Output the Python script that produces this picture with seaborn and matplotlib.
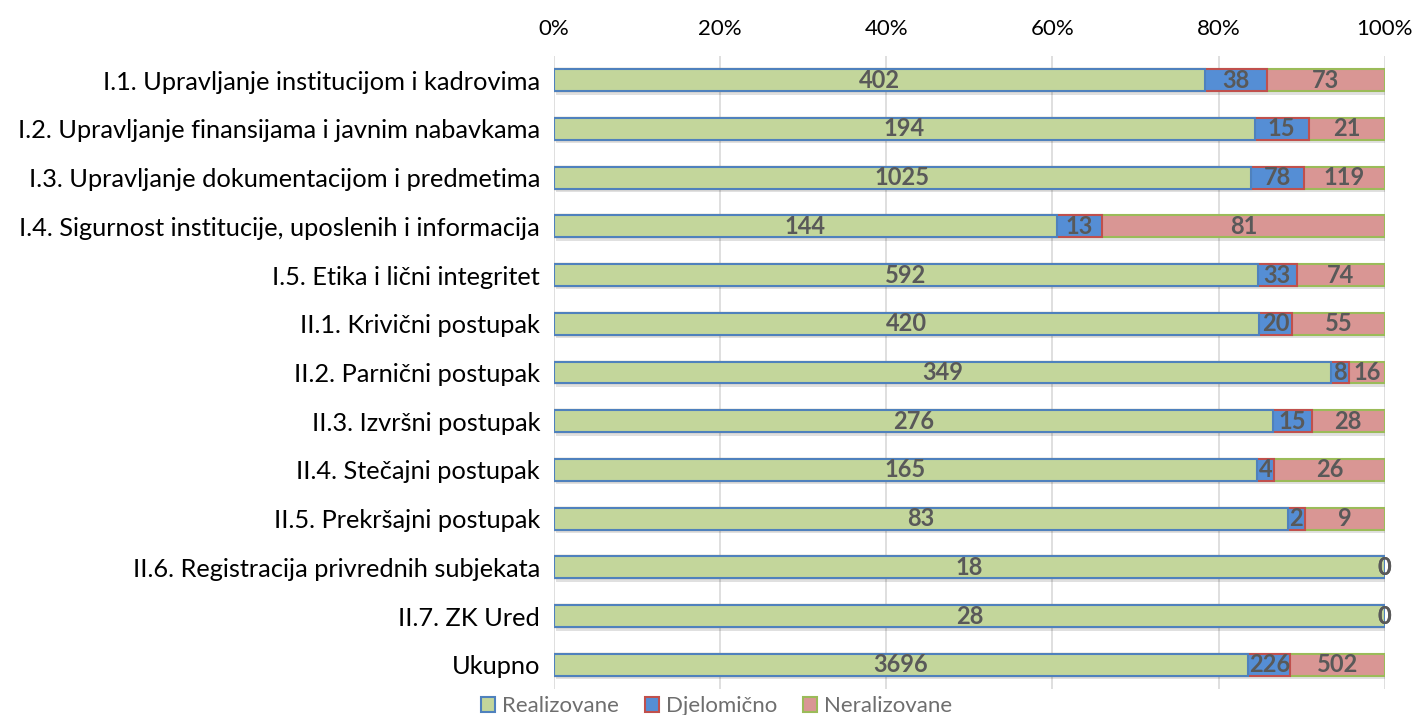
import numpy as np
import pandas as pd
import matplotlib
matplotlib.use("Agg")
import matplotlib.pyplot as plt
import matplotlib.patheffects as pe
import seaborn as sns
from matplotlib.patches import Patch
from matplotlib.ticker import PercentFormatter

categories = [
    "I.1. Upravljanje institucijom i kadrovima",
    "I.2. Upravljanje finansijama i javnim nabavkama",
    "I.3. Upravljanje dokumentacijom i predmetima",
    "I.4. Sigurnost institucije, uposlenih i informacija",
    "I.5. Etika i lični integritet",
    "II.1. Krivični postupak",
    "II.2. Parnični postupak",
    "II.3. Izvršni postupak",
    "II.4. Stečajni postupak",
    "II.5. Prekršajni postupak",
    "II.6. Registracija privrednih subjekata",
    "II.7. ZK Ured",
    "Ukupno",
]
realizovane = [402, 194, 1025, 144, 592, 420, 349, 276, 165, 83, 18, 28, 3696]
djelomicno = [38, 15, 78, 13, 33, 20, 8, 15, 4, 2, 0, 0, 226]
neralizovane = [73, 21, 119, 81, 74, 55, 16, 28, 26, 9, 0, 0, 502]
series_names = ["Realizovane", "Djelomično", "Neralizovane"]

df = pd.DataFrame({"cat": categories, "r": realizovane, "d": djelomicno, "n": neralizovane})
tot = df[["r", "d", "n"]].sum(axis=1)
df["c1"] = df["r"] / tot * 100
df["c2"] = (df["r"] + df["d"]) / tot * 100
df["c3"] = (df["r"] + df["d"] + df["n"]) / tot * 100

faces = ["#C3D69B", "#558ED5", "#D99694"]
edges = ["#4F81BD", "#C0504D", "#9BBB59"]

plt.rcParams["font.family"] = ["Lato", "DejaVu Sans"]
fig = plt.figure(figsize=(14.13, 7.15), dpi=100)
ax = fig.add_axes([0.392, 0.036, 0.588, 0.886])

# stacked by overlaying cumulative bars, widest first
shadow = [pe.SimplePatchShadow(offset=(1.5, -2.5), shadow_rgbFace="#000000", alpha=0.12), pe.Normal()]
for k, (col, fc, ec) in enumerate([("c3", faces[2], edges[2]), ("c2", faces[1], edges[1]), ("c1", faces[0], edges[0])]):
    sns.barplot(data=df, x=col, y="cat", orient="h", color=fc, edgecolor=ec,
                linewidth=1.5, width=0.45, saturation=1, ax=ax, zorder=3)
    if k == 0:
        for p in ax.patches:
            p.set_path_effects(shadow)

ax.set_xlim(0, 100)
ax.set_ylim(len(categories) - 0.5, -0.5)
ax.xaxis.set_major_formatter(PercentFormatter(decimals=0))
ax.set_xticks(np.arange(0, 101, 20))
ax.xaxis.tick_top()
ax.tick_params(axis="both", length=0, colors="black")
ax.tick_params(axis="x", labelsize=16, pad=12)
ax.tick_params(axis="y", labelsize=18.3, pad=10)
ax.grid(axis="x", color="#D9D9D9", linewidth=1.2, zorder=0)
ax.set_axisbelow(True)
for s in ax.spines.values():
    s.set_visible(False)
ax.set_xlabel("")
ax.set_ylabel("")

for i, row in df.iterrows():
    for v, lo, hi in [(row["r"], 0, row["c1"]), (row["d"], row["c1"], row["c2"]), (row["n"], row["c2"], row["c3"])]:
        ax.text((lo + hi) / 2, i, f"{v}", ha="center", va="center", fontsize=17,
                fontweight="bold", color="#595959", zorder=5)

handles = [Patch(facecolor=f, edgecolor=e, linewidth=1.5) for f, e in zip(faces, edges)]
fig.legend(handles, series_names, loc="lower center", bbox_to_anchor=(0.507, -0.03), ncol=3,
           frameon=False, fontsize=16, labelcolor="#6E6E6E", handlelength=0.65, handleheight=0.65,
           handletextpad=0.3, columnspacing=1.15)

fig.savefig("out.png", dpi=100)
